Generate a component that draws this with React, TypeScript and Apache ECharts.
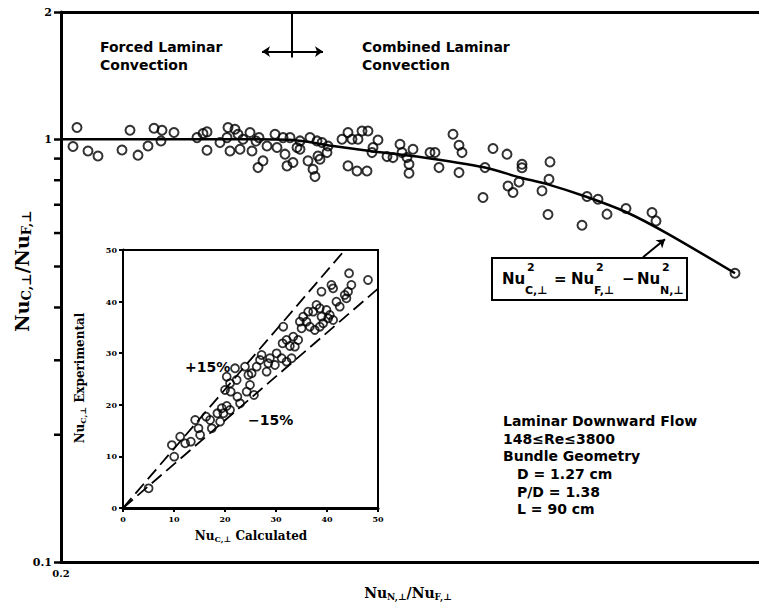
import React, { useEffect, useRef } from 'react';
import * as echarts from 'echarts';

// Main chart: Nu_C/Nu_F vs Nu_N/Nu_F (experimental points)
const mainPoints: [number, number][] = [
  [0.216, 1.066], [0.212, 0.961], [0.227, 0.938], [0.237, 0.913], [0.261, 0.943], [0.269, 1.05],
  [0.277, 0.917], [0.287, 0.964], [0.293, 1.062], [0.301, 1.05], [0.3, 0.991], [0.313, 1.037],
  [0.336, 1.009], [0.342, 1.032], [0.346, 1.041], [0.346, 0.942], [0.359, 0.982], [0.366, 1.009],
  [0.367, 1.066], [0.374, 1.056], [0.369, 0.938], [0.377, 1.028], [0.379, 0.947], [0.382, 1.0],
  [0.389, 1.037], [0.391, 0.938], [0.397, 0.857], [0.402, 0.889], [0.398, 1.009], [0.406, 0.964],
  [0.414, 1.028], [0.416, 0.956], [0.422, 1.009], [0.424, 0.922], [0.429, 1.009], [0.426, 0.865],
  [0.432, 0.881], [0.436, 0.956], [0.395, 0.99], [0.439, 0.991], [0.439, 0.947], [0.449, 1.009],
  [0.456, 0.991], [0.461, 0.982], [0.447, 0.889], [0.452, 0.849], [0.454, 0.816], [0.457, 0.913],
  [0.459, 0.897], [0.466, 0.93], [0.467, 0.964], [0.481, 1.0], [0.487, 1.037], [0.491, 1.0],
  [0.497, 1.0], [0.501, 1.046], [0.507, 1.046], [0.487, 0.865], [0.496, 0.841], [0.506, 0.841],
  [0.517, 0.996], [0.512, 0.956], [0.511, 0.93], [0.526, 0.91], [0.532, 0.905], [0.539, 0.973],
  [0.541, 0.93], [0.546, 0.905], [0.548, 0.873], [0.548, 0.831], [0.552, 0.947], [0.569, 0.93],
  [0.574, 0.93], [0.578, 0.857], [0.592, 1.028], [0.598, 0.968], [0.601, 0.93], [0.598, 0.834],
  [0.624, 0.857], [0.632, 0.951], [0.622, 0.728], [0.646, 0.922], [0.661, 0.873], [0.661, 0.856],
  [0.658, 0.792], [0.647, 0.775], [0.652, 0.748], [0.689, 0.884], [0.688, 0.804], [0.681, 0.755],
  [0.687, 0.664], [0.726, 0.732], [0.737, 0.721], [0.721, 0.626], [0.746, 0.665], [0.765, 0.686],
  [0.791, 0.671], [0.795, 0.641], [0.874, 0.482],
];

// Correlation curve Nu_C^2 = Nu_F^2 - Nu_N^2
const curvePoints: [number, number][] = [
  [0.2, 1.0], [0.389, 1.0], [0.429, 0.997], [0.472, 0.964], [0.509, 0.938], [0.556, 0.91],
  [0.624, 0.857], [0.659, 0.812], [0.686, 0.783], [0.726, 0.73], [0.766, 0.671], [0.806, 0.599],
  [0.874, 0.482],
];

const yMinorTicks: number[] = [0.2, 0.3, 0.4, 0.5, 0.6, 0.7, 0.8, 0.9];

// Inset: Nu_C experimental vs calculated
const insetPoints: [number, number][] = [
  [5.02, 3.81], [9.58, 12.19], [10.04, 9.95], [11.21, 13.82], [12.19, 12.53], [13.3, 12.86],
  [14.15, 17.05], [14.8, 15.44], [15.12, 14.15], [16.3, 17.7], [17.08, 17.05], [17.41, 15.44],
  [18.51, 18.35], [19.04, 16.73], [19.36, 19.32], [20.34, 19.77], [20.99, 18.99], [19.69, 18.35],
  [20.01, 22.87], [20.34, 25.45], [20.99, 24.16], [21.12, 22.55], [21.97, 27.07], [22.29, 24.81],
  [22.43, 21.58], [22.95, 20.28], [23.92, 27.39], [24.58, 25.78], [24.25, 22.55], [24.9, 23.84],
  [25.68, 21.9], [25.23, 26.1], [26.21, 27.39], [26.86, 28.68], [27.18, 29.65], [28.16, 26.42],
  [28.49, 28.04], [28.81, 29.01], [30.12, 29.97], [29.79, 27.71], [31.1, 29.01], [32.07, 28.36],
  [33.05, 29.01], [31.29, 31.91], [32.07, 32.56], [32.72, 31.4], [33.7, 31.27], [33.38, 33.2],
  [34.35, 32.56], [31.42, 35.14], [34.68, 36.11], [35.33, 37.08], [35.98, 36.11], [36.64, 35.14],
  [35.01, 34.82], [37.29, 38.05], [37.94, 39.34], [38.59, 38.7], [38.92, 37.08], [39.24, 35.79],
  [39.9, 38.37], [40.22, 36.76], [40.55, 37.4], [41.2, 36.43], [38.59, 35.14], [37.61, 34.5],
  [36.31, 38.05], [38.92, 41.93], [40.87, 43.22], [41.2, 42.57], [41.85, 39.99], [42.5, 39.02],
  [43.48, 41.28], [43.81, 40.63], [44.13, 41.93], [44.78, 43.22], [44.33, 45.48], [48.04, 44.19],
];

const plus15Line: [number, number][] = [[0, 0], [43.5, 50]];
const minus15Line: [number, number][] = [[0, 0], [50, 42.5]];

const SERIF = '"DejaVu Serif", "Liberation Serif", serif';
const SANS = '"DejaVu Sans", Lato, sans-serif';

function txt(x: number, y: number, text: string, font: string, extra: any = {}) {
  return {
    type: 'text',
    x,
    y,
    z: 100,
    silent: true,
    style: {
      text,
      font,
      fill: '#000',
      align: extra.align || 'left',
      verticalAlign: extra.verticalAlign || 'middle',
      textAlign: extra.align || 'left',
      textVerticalAlign: extra.verticalAlign || 'middle',
      lineHeight: extra.lineHeight,
      rich: extra.rich,
    },
    rotation: extra.rotation || 0,
  };
}

export default function App() {
  const ref = useRef<HTMLDivElement>(null);

  useEffect(() => {
    if (!ref.current) return;
    const chart = echarts.init(ref.current, undefined, { renderer: 'svg' });

    const bigRich = (n: number, s: number, pad: number) => ({
      n: { font: `bold ${n}px ${SERIF}`, fill: '#000' },
      s: { font: `bold ${s}px ${SERIF}`, fill: '#000', padding: [pad, 0, 0, 0] },
    });

    const sansB = (px: number) => `bold ${px}px ${SANS}`;

    const graphics: any[] = [
      // axis titles
      txt(22, 271, '{n|Nu}{s|C,⊥}{n|/Nu}{s|F,⊥}', '', {
        align: 'center', rotation: Math.PI / 2, rich: bigRich(19, 13, 9),
      }),
      txt(408, 593, '{n|Nu}{s|N,⊥}{n|/Nu}{s|F,⊥}', '', {
        align: 'center', rich: bigRich(14, 9, 7),
      }),
      txt(80, 378, '{n|Nu}{s|C,⊥}{n| Experimental}', '', {
        align: 'center', rotation: Math.PI / 2, rich: bigRich(12, 8, 6),
      }),
      txt(251, 536, '{n|Nu}{s|C,⊥}{n| Calculated}', '', {
        align: 'center', rich: bigRich(12, 8, 6),
      }),
      // regime annotations
      txt(100, 38, 'Forced Laminar\nConvection', sansB(14), { verticalAlign: 'top', lineHeight: 18 }),
      txt(362, 38, 'Combined Laminar\nConvection', sansB(14), { verticalAlign: 'top', lineHeight: 18 }),
      // inset labels
      txt(185, 367, '+15%', sansB(14)),
      txt(248, 420, '−15%', sansB(14)),
      // conditions block
      txt(503, 421, 'Laminar Downward Flow', sansB(14)),
      txt(503, 438.5, '148≤Re≤3800', sansB(14)),
      txt(503, 456, 'Bundle Geometry', sansB(14)),
      txt(517, 474, 'D = 1.27 cm', sansB(14)),
      txt(517, 491.5, 'P/D = 1.38', sansB(14)),
      txt(517, 509, 'L = 90 cm', sansB(14)),
      // equation box
      {
        type: 'rect', z: 99, silent: true,
        shape: { x: 492, y: 258, width: 195, height: 42 },
        style: { fill: '#fff', stroke: '#000', lineWidth: 2 },
      },
      txt(502, 279, 'Nu', sansB(15)),
      txt(527, 267, '2', sansB(11)),
      txt(525, 290, 'C,⊥', sansB(11)),
      txt(554, 279, '=', sansB(15)),
      txt(571, 279, 'Nu', sansB(15)),
      txt(596, 267, '2', sansB(11)),
      txt(594, 290, 'F,⊥', sansB(11)),
      txt(622, 279, '−', sansB(15)),
      txt(637, 279, 'Nu', sansB(15)),
      txt(662, 267, '2', sansB(11)),
      txt(660, 290, 'N,⊥', sansB(11)),
    ];

    const option: any = {
      animation: false,
      backgroundColor: '#fff',
      grid: [
        { left: 61, top: 12, right: 0, bottom: 46, show: false },
        {
          left: 123, top: 250, width: 255, height: 258, show: true,
          borderColor: '#000', borderWidth: 2, backgroundColor: '#fff', z: 3,
        },
      ],
      xAxis: [
        {
          gridIndex: 0, type: 'value', min: 0.2, max: 0.898, interval: 0.1, position: 'bottom',
          axisLine: { show: true, onZero: false, lineStyle: { color: '#000', width: 3 } },
          axisTick: { show: false },
          splitLine: { show: false },
          axisLabel: {
            formatter: (v: number) => (Math.abs(v - 0.2) < 1e-6 ? '0.2' : ''),
            color: '#000', fontFamily: SERIF, fontWeight: 'bold', fontSize: 10, margin: 6,
            showMaxLabel: false,
          },
        },
        {
          gridIndex: 0, type: 'value', min: 0.2, max: 0.898, position: 'top',
          axisLine: { show: true, onZero: false, lineStyle: { color: '#000', width: 3 } },
          axisTick: { show: false }, axisLabel: { show: false }, splitLine: { show: false },
        },
        {
          gridIndex: 1, type: 'value', min: 0, max: 50, interval: 10, position: 'bottom',
          axisLine: { show: true, onZero: false, lineStyle: { color: '#000', width: 3 } },
          axisTick: { show: true, length: 4, lineStyle: { color: '#000', width: 2 } },
          splitLine: { show: false },
          axisLabel: { color: '#000', fontFamily: SERIF, fontWeight: 'bold', fontSize: 8, margin: 7 },
        },
      ],
      yAxis: [
        {
          gridIndex: 0, type: 'log', logBase: 10, min: 0.1, max: 2,
          axisLine: { show: true, onZero: false, lineStyle: { color: '#000', width: 3 } },
          axisTick: { show: true, length: 7, lineStyle: { color: '#000', width: 2.5 } },
          minorTick: { show: false },
          splitLine: { show: false },
          axisLabel: { color: '#000', fontFamily: SERIF, fontWeight: 'bold', fontSize: 11, margin: 9 },
        },
        {
          gridIndex: 1, type: 'value', min: 0, max: 50, interval: 10,
          axisLine: { show: true, onZero: false, lineStyle: { color: '#000', width: 3 } },
          axisTick: { show: true, length: 4, lineStyle: { color: '#000', width: 2 } },
          splitLine: { show: false },
          axisLabel: { color: '#000', fontFamily: SERIF, fontWeight: 'bold', fontSize: 8, margin: 6 },
        },
      ],
      series: [
        {
          type: 'scatter', xAxisIndex: 0, yAxisIndex: 0, data: mainPoints,
          symbol: 'circle', symbolSize: 9,
          itemStyle: { color: 'rgba(255,255,255,0)', borderColor: '#000', borderWidth: 2 },
          silent: true, z: 4,
        },
        {
          type: 'line', xAxisIndex: 0, yAxisIndex: 0, data: curvePoints,
          smooth: 0.3, showSymbol: false, symbol: 'none',
          lineStyle: { color: '#000', width: 2.5 }, silent: true, z: 3,
          markLine: {
            silent: true, symbol: ['none', 'arrow'], symbolSize: 8,
            label: { show: false },
            lineStyle: { color: '#000', width: 2, type: 'solid' },
            emphasis: { disabled: true },
            data: [
              [{ coord: [0.782, 0.526] }, { coord: [0.804, 0.58] }],
              [{ coord: [0.431, 2], symbol: 'none' }, { coord: [0.431, 1.56], symbol: 'none' }],
              [{ coord: [0.401, 1.612], symbol: 'arrow' }, { coord: [0.462, 1.612], symbol: 'arrow' }],
            ],
          },
        },
        {
          // minor log ticks on the main y axis (positioned by the axis scale)
          type: 'custom', xAxisIndex: 0, yAxisIndex: 0, clip: false, silent: true, z: 10,
          data: yMinorTicks.map((v) => [0.2, v]),
          encode: { x: 0, y: 1 },
          renderItem: (params: any, api: any) => {
            const p = api.coord([api.value(0), api.value(1)]);
            return {
              type: 'rect',
              shape: { x: p[0] - 7, y: p[1] - 1.25, width: 7, height: 2.5 },
              style: { fill: '#000' },
            };
          },
        },
        {
          type: 'line', xAxisIndex: 2, yAxisIndex: 1, data: plus15Line,
          showSymbol: false, symbol: 'none', silent: true, z: 5,
          lineStyle: { color: '#000', width: 1.8, type: [13, 6] },
        },
        {
          type: 'line', xAxisIndex: 2, yAxisIndex: 1, data: minus15Line,
          showSymbol: false, symbol: 'none', silent: true, z: 5,
          lineStyle: { color: '#000', width: 1.8, type: [13, 6] },
        },
        {
          type: 'scatter', xAxisIndex: 2, yAxisIndex: 1, data: insetPoints,
          symbol: 'circle', symbolSize: 8,
          itemStyle: { color: 'rgba(255,255,255,0)', borderColor: '#000', borderWidth: 1.8 },
          silent: true, z: 6,
        },
      ],
      graphic: graphics,
    };

    chart.setOption(option);
    return () => chart.dispose();
  }, []);

  return (
    <div
      ref={ref}
      style={{ position: 'absolute', left: 0, top: 0, width: 759, height: 608, background: '#fff' }}
    />
  );
}
